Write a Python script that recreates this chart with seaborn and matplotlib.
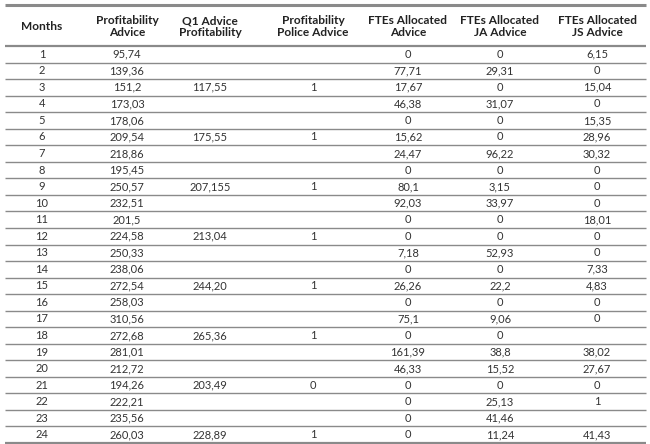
import matplotlib
matplotlib.use("Agg")
import matplotlib.pyplot as plt
import seaborn as sns

months = [str(i) for i in range(1, 25)]
profit_advice = ["95,74", "139,36", "151,2", "173,03", "178,06", "209,54", "218,86", "195,45",
                 "250,57", "232,51", "201,5", "224,58", "250,33", "238,06", "272,54", "258,03",
                 "310,56", "272,68", "281,01", "212,72", "194,26", "222,21", "235,56", "260,03"]
q1_profit = ["", "", "117,55", "", "", "175,55", "", "", "207,155", "", "", "213,04",
             "", "", "244,20", "", "", "265,36", "", "", "203,49", "", "", "228,89"]
police = ["", "", "1", "", "", "1", "", "", "1", "", "", "1",
          "", "", "1", "", "", "1", "", "", "0", "", "", "1"]
fte_advice = ["0", "77,71", "17,67", "46,38", "0", "15,62", "24,47", "0", "80,1", "92,03", "0", "0",
              "7,18", "0", "26,26", "0", "75,1", "0", "161,39", "46,33", "0", "0", "0", "0"]
fte_ja = ["0", "29,31", "0", "31,07", "0", "0", "96,22", "0", "3,15", "33,97", "0", "0",
          "52,93", "0", "22,2", "0", "9,06", "0", "38,8", "15,52", "0", "25,13", "41,46", "11,24"]
fte_js = ["6,15", "0", "15,04", "0", "15,35", "28,96", "30,32", "0", "0", "0", "18,01", "0",
          "0", "7,33", "4,83", "0", "0", "", "38,02", "27,67", "0", "1", "", "41,43"]
headers = ["Months", "Profitability\nAdvice", "Q1 Advice\nProfitability", "Profitability\nPolice Advice",
           "FTEs Allocated\nAdvice", "FTEs Allocated\nJA Advice", "FTEs Allocated\nJS Advice"]

sns.set_theme(style="white")
plt.rcParams["font.family"] = ["Lato", "DejaVu Sans"]

W, H = 650, 444
fig = plt.figure(figsize=(6.5, 4.44), dpi=100)
ax = fig.add_axes([0, 0, 1, 1])
ax.set_xlim(0, W)
ax.set_ylim(H, 0)
ax.axis("off")

col_x = [42, 127, 210, 313, 408, 500, 597]
header_top, header_bottom, table_bottom = 5, 46, 443
row_h = (table_bottom - header_bottom) / len(months)
line_color = "#8a8a8a"

ax.hlines(header_top, 5, 646, color=line_color, lw=2.2)
ax.hlines(header_bottom, 5, 646, color=line_color, lw=1.6)
for x, h in zip(col_x, headers):
    ax.text(x, (header_top + header_bottom) / 2 + 1, h, ha="center", va="center",
            fontsize=8.6, fontweight="bold", color="#222222", linespacing=1.0)

cols = [months, profit_advice, q1_profit, police, fte_advice, fte_ja, fte_js]
for i in range(len(months)):
    yc = header_bottom + (i + 0.5) * row_h
    for x, col in zip(col_x, cols):
        if col[i]:
            ax.text(x, yc, col[i], ha="center", va="center", fontsize=8, color="#333333")
    ax.hlines(header_bottom + (i + 1) * row_h, 5, 646, color=line_color,
              lw=1.6 if i == len(months) - 1 else 1.0)

fig.savefig("out.png", dpi=100, facecolor="white")
